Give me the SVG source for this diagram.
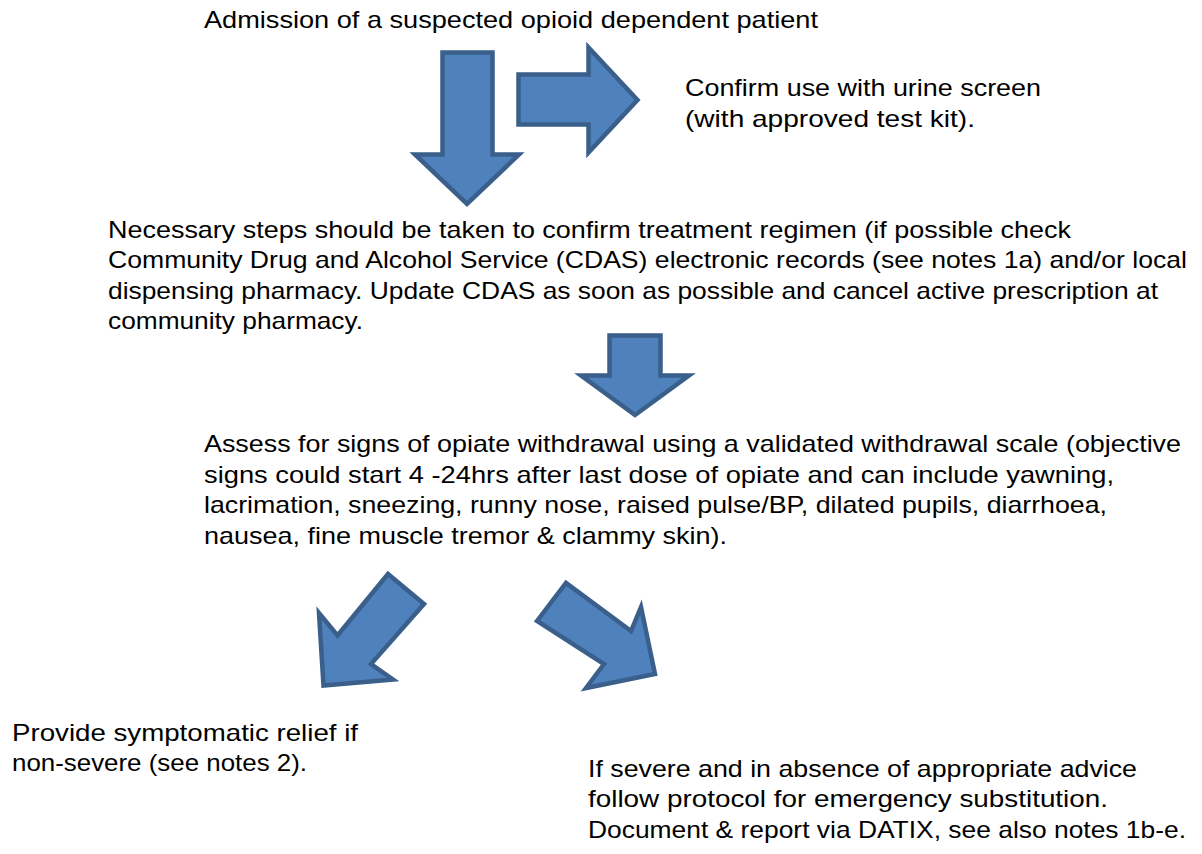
<svg xmlns="http://www.w3.org/2000/svg" width="1202" height="854" viewBox="0 0 1202 854">
<style>
.t{font-family:"Liberation Sans",Arial,sans-serif;font-size:24px;fill:#000}
.a{fill:#4F81BD;stroke:#3A5F8B;stroke-width:4.5;stroke-linejoin:miter}
</style>
<rect width="1202" height="854" fill="#fff"/>
<g id="connectors">
<polygon class="a" points="442.5,52.5 492.5,52.5 492.5,154.5 519,154.5 467,204 415,154.5 442.5,154.5"/>
<polygon class="a" points="518.5,74.5 588.5,74.5 588.5,47.5 637.5,100 588.5,152.5 588.5,124.5 518.5,124.5"/>
<polygon class="a" points="609.5,335.5 660.5,335.5 660.5,375.5 689,375.5 635,415 581,375.5 609.5,375.5"/>
<polygon class="a" points="388,574 424,604 371,664 393,679.5 323.5,685.5 319,613 337.5,635.5"/>
<polygon class="a" points="537,621 566,583 631,631 641,607 655,674 586,688 604,664"/>
</g>
<g id="n-admission">
<text class="t" x="204" y="28" textLength="614" lengthAdjust="spacingAndGlyphs">Admission of a suspected opioid dependent patient</text>
</g>
<g id="n-confirm">
<text class="t" x="685" y="96" textLength="356" lengthAdjust="spacingAndGlyphs">Confirm use with urine screen</text>
<text class="t" x="685" y="127" textLength="290" lengthAdjust="spacingAndGlyphs">(with approved test kit).</text>
</g>
<g id="n-steps">
<text class="t" x="108" y="238" textLength="963" lengthAdjust="spacingAndGlyphs">Necessary steps should be taken to confirm treatment regimen (if possible check</text>
<text class="t" x="108" y="268" textLength="1079" lengthAdjust="spacingAndGlyphs">Community Drug and Alcohol Service (CDAS) electronic records (see notes 1a) and/or local</text>
<text class="t" x="108" y="299" textLength="1050" lengthAdjust="spacingAndGlyphs">dispensing pharmacy. Update CDAS as soon as possible and cancel active prescription at</text>
<text class="t" x="108" y="329" textLength="255" lengthAdjust="spacingAndGlyphs">community pharmacy.</text>
</g>
<g id="n-assess">
<text class="t" x="204" y="452" textLength="977" lengthAdjust="spacingAndGlyphs">Assess for signs of opiate withdrawal using a validated withdrawal scale (objective</text>
<text class="t" x="204" y="483" textLength="910" lengthAdjust="spacingAndGlyphs">signs could start 4 -24hrs after last dose of opiate and can include yawning,</text>
<text class="t" x="204" y="513" textLength="903" lengthAdjust="spacingAndGlyphs">lacrimation, sneezing, runny nose, raised pulse/BP, dilated pupils, diarrhoea,</text>
<text class="t" x="204" y="544" textLength="523" lengthAdjust="spacingAndGlyphs">nausea, fine muscle tremor &amp; clammy skin).</text>
</g>
<g id="n-relief">
<text class="t" x="12" y="741" textLength="346" lengthAdjust="spacingAndGlyphs">Provide symptomatic relief if</text>
<text class="t" x="12" y="771" textLength="295" lengthAdjust="spacingAndGlyphs">non-severe (see notes 2).</text>
</g>
<g id="n-severe">
<text class="t" x="588" y="777" textLength="549" lengthAdjust="spacingAndGlyphs">If severe and in absence of appropriate advice</text>
<text class="t" x="588" y="807" textLength="520" lengthAdjust="spacingAndGlyphs">follow protocol for emergency substitution.</text>
<text class="t" x="588" y="838" textLength="598" lengthAdjust="spacingAndGlyphs">Document &amp; report via DATIX, see also notes 1b-e.</text>
</g>
</svg>
